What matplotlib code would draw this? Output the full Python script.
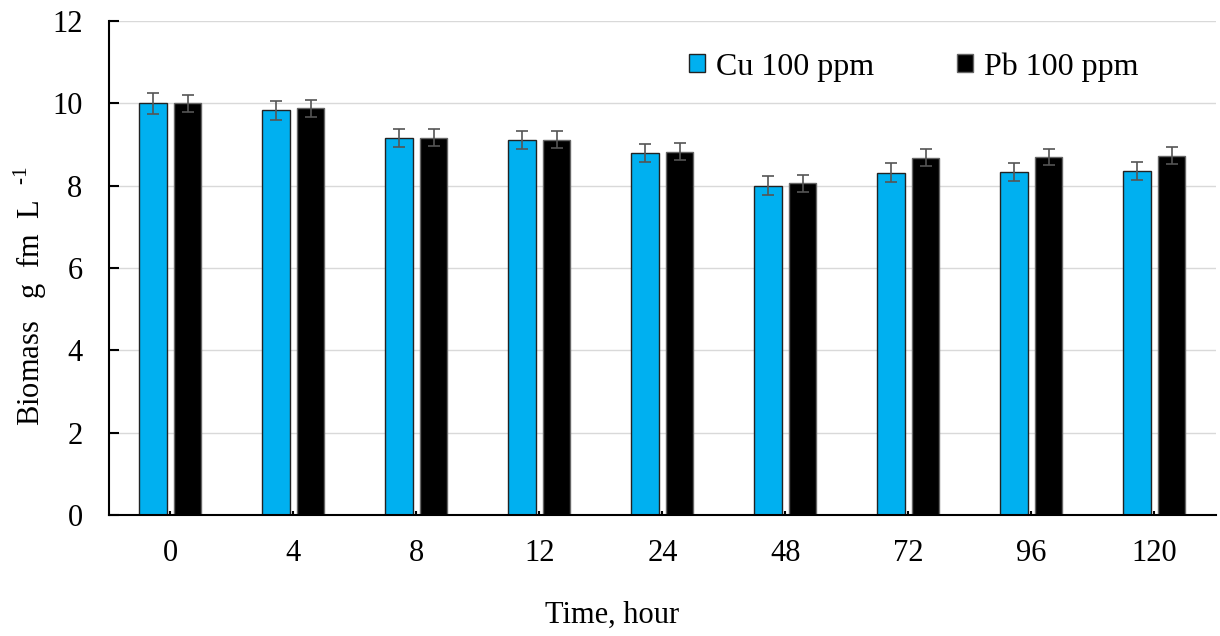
import matplotlib
matplotlib.use('agg')
import matplotlib.pyplot as plt
import numpy as np

plt.rcParams['font.family'] = ['Liberation Serif', 'DejaVu Serif']
plt.rcParams['mathtext.fontset'] = 'custom'
plt.rcParams['mathtext.rm'] = 'Liberation Serif'

# data
hours = ['0', '4', '8', '12', '24', '48', '72', '96', '120']
cu = [10.0, 9.83, 9.15, 9.10, 8.80, 8.00, 8.32, 8.34, 8.36]
pb = [10.0, 9.88, 9.17, 9.12, 8.83, 8.06, 8.68, 8.70, 8.73]
cu_err = [0.25, 0.23, 0.22, 0.22, 0.22, 0.23, 0.22, 0.22, 0.22]
pb_err = [0.20, 0.21, 0.20, 0.20, 0.20, 0.21, 0.20, 0.20, 0.20]

x = np.arange(len(hours))
w = 0.22
off = 0.142

fig = plt.figure(figsize=(12.2, 6.36), dpi=100)
ax = fig.add_axes([0.0893, 0.190, 0.9074, 0.777])

ax.yaxis.grid(True, color='#d9d9d9', lw=1)
ax.set_axisbelow(True)

ekw = dict(ecolor='#555555', elinewidth=1.2, capthick=1.2)
ax.bar(x - off, cu, w, color='#00b0f0', edgecolor='#222222', lw=1,
       yerr=cu_err, capsize=4, error_kw=ekw, label='Cu 100 ppm')
ax.bar(x + off, pb, w, color='black', edgecolor='#666666', lw=1,
       yerr=pb_err, capsize=4, error_kw=ekw, label='Pb 100 ppm')

ax.set_xlim(-0.5, len(hours) - 0.5)
ax.set_ylim(0, 12)
ax.set_yticks(range(0, 13, 2))
ax.set_xticks(x)
ax.set_xticklabels(hours)
ax.tick_params(axis='x', direction='in', length=3, width=1.5, labelsize=22, pad=17)
ax.tick_params(axis='y', direction='in', length=7, width=1.5, labelsize=22, pad=19)

for s in ['top', 'right']:
    ax.spines[s].set_visible(False)
for s in ['left', 'bottom']:
    ax.spines[s].set_linewidth(1.5)

fig.text(0.502, 0.033, 'Time, hour', ha='center', va='center', fontsize=22)
fig.text(0.025, 0.535, r'Biomass   g  fm  L  $^{\text{-1}}$', rotation=90,
         ha='center', va='center', fontsize=22)

ax.legend(loc='center', bbox_to_anchor=(0.749, 0.895), bbox_transform=fig.transFigure,
          ncol=2, frameon=False, fontsize=23, handlelength=0.5, handleheight=0.5,
          handletextpad=0.35, columnspacing=2.6)

fig.savefig('out.png')
